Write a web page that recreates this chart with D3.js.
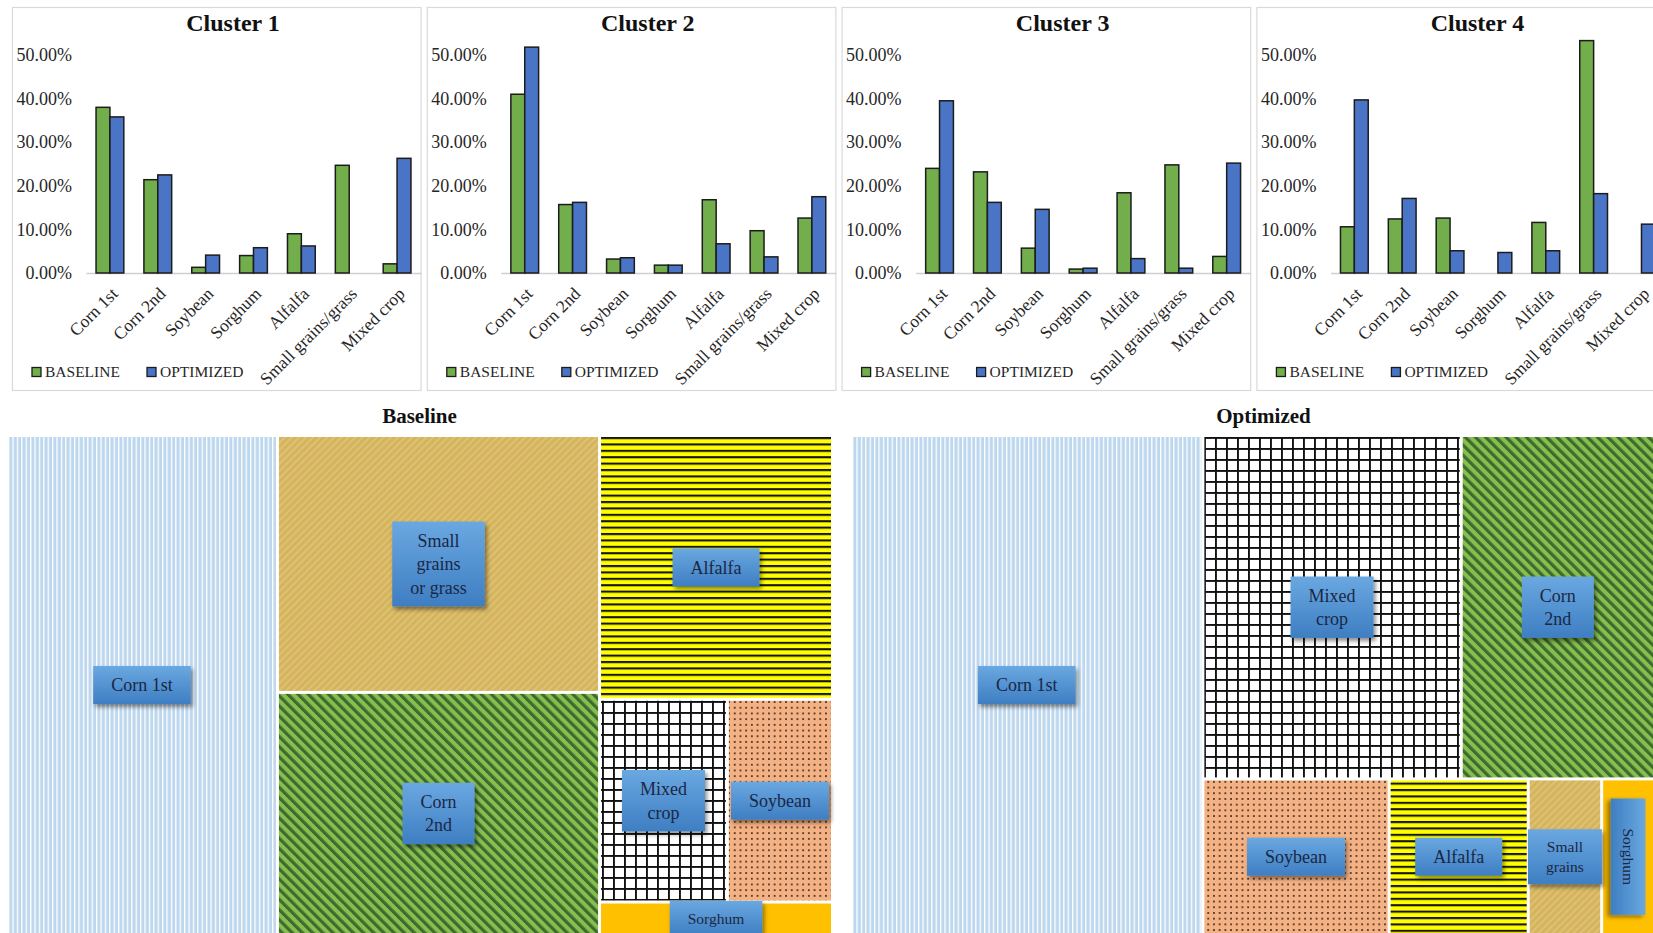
<!DOCTYPE html>
<html>
<head>
<meta charset="utf-8">
<script src="https://cdn.jsdelivr.net/npm/d3@7"></script>
<style>
  html, body { margin: 0; padding: 0; background: #fff; }
  svg { display: block; }
  text { font-family: "Liberation Serif", "Times New Roman", serif; }
</style>
</head>
<body>
<svg id="chart" width="1653" height="933"></svg>
<script>
// ---- Crop shares per cluster (percent of area) ----
const clusters = ["Cluster 1", "Cluster 2", "Cluster 3", "Cluster 4"];
const crops = ["Corn 1st", "Corn 2nd", "Soybean", "Sorghum", "Alfalfa", "Small grains/grass", "Mixed crop"];
const seriesNames = ["BASELINE", "OPTIMIZED"];
const baselineShare = [
  [38.0, 21.4, 1.3, 4.0, 9.0, 24.7, 2.1],
  [41.0, 15.7, 3.2, 1.8, 16.8, 9.7, 12.6],
  [24.0, 23.2, 5.7, 0.9, 18.4, 24.8, 3.8],
  [10.6, 12.4, 12.6, 0.0, 11.6, 53.3, 0.0]
];
const optimizedShare = [
  [35.8, 22.5, 4.1, 5.8, 6.2, 0.0, 26.3],
  [51.8, 16.2, 3.5, 1.8, 6.7, 3.7, 17.5],
  [39.5, 16.2, 14.6, 1.1, 3.3, 1.1, 25.2],
  [39.7, 17.1, 5.1, 4.7, 5.1, 18.2, 11.2]
];
const yTicks = [0, 10, 20, 30, 40, 50];

// ---- Overall land-use shares (treemaps) ----
const baselineTreeCrops  = ["Corn 1st", "Small grains/grass", "Corn 2nd", "Alfalfa", "Mixed crop", "Soybean", "Sorghum"];
const baselineTreeValues = [32.8, 19.8, 19.2, 14.7, 6.2, 5.1, 2.2];
const baselineTreeLabels = ["Corn 1st", "Small\ngrains\nor grass", "Corn\n2nd", "Alfalfa", "Mixed\ncrop", "Soybean", "Sorghum"];

const optimizedTreeCrops  = ["Corn 1st", "Mixed crop", "Corn 2nd", "Soybean", "Alfalfa", "Small grains/grass", "Sorghum"];
const optimizedTreeValues = [41.8, 20.8, 18.7, 7.1, 5.3, 2.8, 3.5];
const optimizedTreeLabels = ["Corn 1st", "Mixed\ncrop", "Corn\n2nd", "Soybean", "Alfalfa", "Small\ngrains", "Sorghum"];

// ---- Canvas ----
const W = 1653, H = 933;
const svg = d3.select("#chart");
const defs = svg.append("defs");

// Fill patterns for each crop
function stripes(id, period, bg, fg, lw, angle) {
  const p = defs.append("pattern").attr("id", id)
    .attr("patternUnits", "userSpaceOnUse")
    .attr("width", period).attr("height", period)
    .attr("patternTransform", `rotate(${angle})`);
  p.append("rect").attr("width", period).attr("height", period).attr("fill", bg);
  p.append("rect").attr("width", lw).attr("height", period).attr("fill", fg);
}
stripes("p-corn1", 4.4, "#BDD7EE", "#ffffff", 1.3, 0);
stripes("p-corn2", 7.2, "#86BF4E", "#3F6A2F", 3.2, -45);
stripes("p-grain", 5, "#D5B45C", "#DCC176", 2, 45);
stripes("p-alfalfa", 6.4, "#FFFF00", "#151515", 2.1, 90);
(function () {
  const p = defs.append("pattern").attr("id", "p-mixed")
    .attr("patternUnits", "userSpaceOnUse").attr("width", 11).attr("height", 11);
  p.append("rect").attr("width", 11).attr("height", 11).attr("fill", "#fff");
  p.append("rect").attr("width", 1.9).attr("height", 11).attr("fill", "#111");
  p.append("rect").attr("width", 11).attr("height", 1.9).attr("fill", "#111");
  const s = defs.append("pattern").attr("id", "p-soy")
    .attr("patternUnits", "userSpaceOnUse").attr("width", 5.7).attr("height", 5.7);
  s.append("rect").attr("width", 5.7).attr("height", 5.7).attr("fill", "#F4B183");
  s.append("circle").attr("cx", 2.85).attr("cy", 2.85).attr("r", 0.95).attr("fill", "#2a1d15");
})();
const cropFill = {
  "Corn 1st": "url(#p-corn1)",
  "Corn 2nd": "url(#p-corn2)",
  "Small grains/grass": "url(#p-grain)",
  "Alfalfa": "url(#p-alfalfa)",
  "Mixed crop": "url(#p-mixed)",
  "Soybean": "url(#p-soy)",
  "Sorghum": "#FFC000"
};

// Label box styling
const grad = defs.append("linearGradient").attr("id", "boxGrad")
  .attr("x1", 0).attr("y1", 0).attr("x2", 0).attr("y2", 1);
grad.append("stop").attr("offset", "0%").attr("stop-color", "#6AA8E1");
grad.append("stop").attr("offset", "100%").attr("stop-color", "#3E7EC2");
const shadow = defs.append("filter").attr("id", "shadow")
  .attr("x", "-30%").attr("y", "-30%").attr("width", "160%").attr("height", "170%");
shadow.append("feDropShadow").attr("dx", 2).attr("dy", 3).attr("stdDeviation", 2)
  .attr("flood-color", "#000").attr("flood-opacity", 0.45);

// ---- Cluster bar panels ----
const seriesColor = { BASELINE: "#72AE4C", OPTIMIZED: "#4A74C6" };
const seriesData = { BASELINE: baselineShare, OPTIMIZED: optimizedShare };
const panelBand = d3.scaleBand().domain(clusters).range([12, 1665]).paddingInner(0.015);
const panelTop = 7, panelH = 383;
const y = d3.scaleLinear().domain([0, 50]).range([273, 55]);
const x0 = d3.scaleBand().domain(crops).range([74, 409]).paddingInner(0.42).paddingOuter(0.21);
const x1 = d3.scaleBand().domain(seriesNames).range([0, x0.bandwidth()]);

clusters.forEach((cl, ci) => {
  const g = svg.append("g").attr("transform", `translate(${panelBand(cl)},0)`);
  g.append("rect")
    .attr("x", 0.5).attr("y", panelTop + 0.5)
    .attr("width", panelBand.bandwidth()).attr("height", panelH)
    .attr("fill", "#fff").attr("stroke", "#d9d9d9").attr("stroke-width", 1.2);

  g.append("text").attr("x", 221).attr("y", 31)
    .attr("text-anchor", "middle").attr("font-size", 24).attr("font-weight", "bold")
    .attr("fill", "#111").text(cl);

  // value axis
  const ya = g.append("g").attr("transform", "translate(74,0)")
    .call(d3.axisLeft(y).tickValues(yTicks).tickSize(0).tickPadding(14)
      .tickFormat(d => d.toFixed(2) + "%"));
  ya.select(".domain").remove();
  ya.selectAll("text").attr("font-family", '"Liberation Serif", serif')
    .attr("font-size", 18).attr("fill", "#262626");

  // category axis
  const xa = g.append("g").attr("transform", `translate(0,${y(0)})`)
    .call(d3.axisBottom(x0).tickSize(0));
  xa.select(".domain").attr("stroke", "#d0d0d0").attr("stroke-width", 1.4);
  xa.selectAll("text")
    .attr("font-family", '"Liberation Serif", serif')
    .attr("font-size", 17.5).attr("fill", "#262626")
    .attr("text-anchor", "end")
    .attr("x", null).attr("y", null).attr("dy", "0.72em")
    .attr("transform", "translate(0,13) rotate(-45)");

  // bars
  const groups = g.selectAll(".cat").data(crops).join("g")
    .attr("transform", c => `translate(${x0(c)},0)`);
  groups.selectAll("rect")
    .data((c, k) => seriesNames.map(s => ({ s, v: seriesData[s][ci][k] })).filter(d => d.v > 0))
    .join("rect")
    .attr("x", d => x1(d.s))
    .attr("y", d => y(d.v))
    .attr("width", x1.bandwidth())
    .attr("height", d => y(0) - y(d.v))
    .attr("fill", d => seriesColor[d.s])
    .attr("stroke", "#1c1c1c").attr("stroke-width", 1.5);

  // legend
  const lg = g.append("g").attr("transform", "translate(0,372)");
  const legendX = { BASELINE: 20, OPTIMIZED: 135 };
  seriesNames.forEach(s => {
    lg.append("rect").attr("x", legendX[s]).attr("y", -4.5).attr("width", 9).attr("height", 9)
      .attr("fill", seriesColor[s]).attr("stroke", "#1c1c1c").attr("stroke-width", 1.3);
    lg.append("text").attr("x", legendX[s] + 13).attr("y", 0).attr("dy", "0.35em")
      .attr("font-size", 15.5).attr("fill", "#262626").text(s);
  });
});

// ---- Treemaps ----
function drawTreemap(title, names, values, labels, frame) {
  const root = d3.hierarchy({
    children: names.map((n, i) => ({ crop: n, value: values[i], label: labels[i] }))
  }).sum(d => d.value || 0);
  d3.treemap().tile(d3.treemapSquarify.ratio(1))
    .size([frame.w, frame.h]).paddingInner(3)(root);

  const g = svg.append("g").attr("transform", `translate(${frame.x},${frame.y})`);
  svg.append("text").attr("x", frame.titleX).attr("y", frame.y - 14)
    .attr("text-anchor", "middle").attr("font-size", 21).attr("font-weight", "bold")
    .attr("fill", "#111").text(title);

  const leaves = root.leaves();
  g.selectAll("rect.tile").data(leaves).join("rect").attr("class", "tile")
    .attr("x", d => d.x0).attr("y", d => d.y0)
    .attr("width", d => d.x1 - d.x0).attr("height", d => d.y1 - d.y0)
    .attr("fill", d => cropFill[d.data.crop]);

  // labels sit in the middle of the part of each tile that is in view
  leaves.forEach(d => {
    const vx1 = Math.min(d.x1, W - frame.x), vy1 = Math.min(d.y1, H - frame.y);
    const cx = (d.x0 + vx1) / 2, cy = (d.y0 + vy1) / 2;
    const visW = vx1 - d.x0, visH = vy1 - d.y0;
    const rotate = visW < 60;
    const fs = (visW < 90 || visH < 50) ? 15.5 : 18;
    const lh = fs * 1.3;
    const lines = d.data.label.split("\n");
    const lab = g.append("g").attr("transform", `translate(${cx},${cy}) rotate(${rotate ? 90 : 0})`);
    const box = lab.append("rect");
    const txt = lab.append("text").attr("text-anchor", "middle")
      .attr("font-size", fs).attr("fill", "#1b2744");
    lines.forEach((l, k) => {
      txt.append("tspan").attr("x", 0)
        .attr("y", (k - (lines.length - 1) / 2) * lh)
        .attr("dy", "0.35em").text(l);
    });
    const bb = txt.node().getBBox();
    const padX = rotate ? 30 : 18, padY = 7.3;
    const bw = bb.width + 2 * padX, bh = lines.length * lh + 2 * padY;
    box.attr("x", -bw / 2).attr("y", -bh / 2).attr("width", bw).attr("height", bh)
      .attr("fill", "url(#boxGrad)").attr("filter", "url(#shadow)");
  });
}

drawTreemap("Baseline", baselineTreeCrops, baselineTreeValues, baselineTreeLabels,
  { x: 8, y: 437, w: 823, h: 503, titleX: 8 + 823 / 2 });
drawTreemap("Optimized", optimizedTreeCrops, optimizedTreeValues, optimizedTreeLabels,
  { x: 852, y: 437, w: 840, h: 503, titleX: 852 + 823 / 2 });
</script>
</body>
</html>
